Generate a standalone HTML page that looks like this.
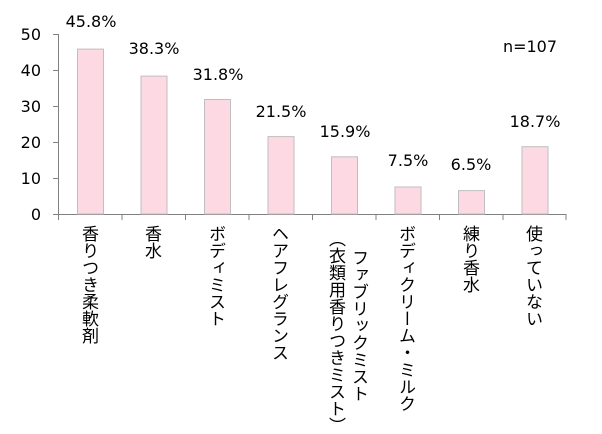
<!DOCTYPE html>
<html><head><meta charset="utf-8"><style>
body{margin:0;width:602px;height:430px;background:#fff;overflow:hidden;font-family:"DejaVu Sans","Noto Sans CJK JP",sans-serif;}
svg{position:absolute;left:0;top:0}
.v{position:absolute;writing-mode:vertical-rl;font-size:17px;line-height:19px;color:#000;white-space:nowrap;font-family:"Noto Sans CJK JP",sans-serif;}
</style></head><body>
<svg width="602" height="430" font-family="DejaVu Sans, sans-serif" font-size="16">
<g fill="#000" text-anchor="end">
<text x="41" y="220">0</text><text x="41" y="184">10</text><text x="41" y="148">20</text>
<text x="41" y="112">30</text><text x="41" y="76">40</text><text x="41" y="40">50</text>
</g>
<g stroke="#808080" stroke-width="1">
<line x1="53" y1="214.5" x2="58" y2="214.5"/><line x1="53" y1="178.5" x2="58" y2="178.5"/>
<line x1="53" y1="142.5" x2="58" y2="142.5"/><line x1="53" y1="106.5" x2="58" y2="106.5"/>
<line x1="53" y1="70.5" x2="58" y2="70.5"/><line x1="53" y1="34.5" x2="58" y2="34.5"/>
<line x1="58.5" y1="34" x2="58.5" y2="214"/>
<line x1="58" y1="214.5" x2="566" y2="214.5"/>
</g>
<g stroke="#808080">
<line x1="58.5" y1="214" x2="58.5" y2="220"/><line x1="122" y1="214" x2="122" y2="220"/>
<line x1="185.5" y1="214" x2="185.5" y2="220"/><line x1="249" y1="214" x2="249" y2="220"/>
<line x1="312.5" y1="214" x2="312.5" y2="220"/><line x1="376" y1="214" x2="376" y2="220"/>
<line x1="439.5" y1="214" x2="439.5" y2="220"/><line x1="503" y1="214" x2="503" y2="220"/>
<line x1="566" y1="214" x2="566" y2="220"/>
</g>
<g fill="#fdd9e3" stroke="#bfbfbf" stroke-width="1">
<rect x="77.5" y="49.1" width="26" height="164.9"/>
<rect x="141" y="76.1" width="26" height="137.9"/>
<rect x="204.5" y="99.5" width="26" height="114.5"/>
<rect x="268" y="136.6" width="26" height="77.4"/>
<rect x="331.5" y="156.8" width="26" height="57.2"/>
<rect x="395" y="187" width="26" height="27"/>
<rect x="458.5" y="190.6" width="26" height="23.4"/>
<rect x="522" y="146.7" width="26" height="67.3"/>
</g>
<g fill="#000" text-anchor="middle">
<text x="91" y="27">45.8%</text><text x="154" y="54">38.3%</text>
<text x="218" y="80">31.8%</text><text x="281" y="117">21.5%</text>
<text x="345" y="137">15.9%</text><text x="408" y="166">7.5%</text>
<text x="471" y="170">6.5%</text><text x="535" y="127">18.7%</text>
<text x="530" y="52">n=107</text>
</g>
</svg>
<div class="v" style="left:81px;top:225px">香りつき柔軟剤</div>
<div class="v" style="left:144px;top:225px">香水</div>
<div class="v" style="left:208px;top:225px">ボディミスト</div>
<div class="v" style="left:271px;top:225px">ヘアフレグランス</div>
<div class="v" style="left:326px;top:230px;height:190px;text-align:center;line-height:23px">ファブリックミスト<br>（衣類用香りつきミスト）</div>
<div class="v" style="left:398px;top:225px">ボディクリーム・ミルク</div>
<div class="v" style="left:462px;top:225px">練り香水</div>
<div class="v" style="left:525px;top:225px">使っていない</div>
</body></html>
